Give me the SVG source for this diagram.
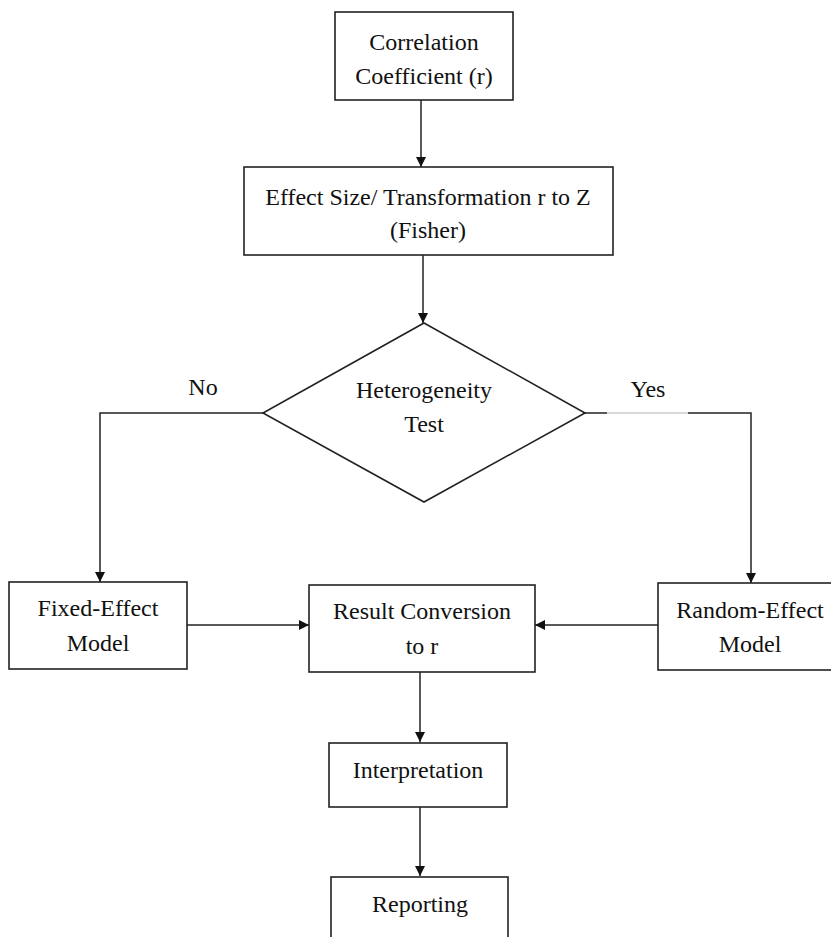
<svg xmlns="http://www.w3.org/2000/svg" width="831" height="937" viewBox="0 0 831 937" font-family="'Liberation Serif', 'Times New Roman', Times, 'DejaVu Serif', serif">
<style>
.box{fill:#fff;stroke:#222;stroke-width:1.6}
.t{font-size:24px;fill:#111;text-anchor:middle}
.c{fill:none;stroke:#222;stroke-width:1.5}
</style>
<defs>
<marker id="ah" viewBox="0 0 10 10" refX="10" refY="5" markerWidth="14" markerHeight="10" markerUnits="userSpaceOnUse" orient="auto">
<path d="M0,0 L10,5 L0,10 z" fill="#111"/>
</marker>
</defs>
<rect width="831" height="937" fill="#fff"/>
<g id="connectors">
<path class="c" d="M421,100 V167" marker-end="url(#ah)"/>
<path class="c" d="M423,255 V323" marker-end="url(#ah)"/>
<path class="c" d="M263,413 H100 V582" marker-end="url(#ah)"/>
<path class="c" d="M585,413 H607"/>
<path d="M607,413 H688" fill="none" stroke="#ccc" stroke-width="1.5"/>
<path class="c" d="M688,413 H751 V583" marker-end="url(#ah)"/>
<path class="c" d="M187,625 H309" marker-end="url(#ah)"/>
<path class="c" d="M658,625 H535" marker-end="url(#ah)"/>
<path class="c" d="M420,672 V742" marker-end="url(#ah)"/>
<path class="c" d="M420,807 V876" marker-end="url(#ah)"/>
</g>
<g id="n1">
<rect class="box" x="335" y="12" width="178" height="88"/>
<text class="t" x="424" y="50">Correlation</text>
<text class="t" x="424" y="84">Coefficient (r)</text>
</g>
<g id="n2">
<rect class="box" x="244" y="167" width="369" height="88"/>
<text class="t" x="428" y="205">Effect Size/ Transformation r to Z</text>
<text class="t" x="428" y="238">(Fisher)</text>
</g>
<g id="n3">
<polygon class="box" points="424,323 585,413 424,502 263,413"/>
<text class="t" x="424" y="398">Heterogeneity</text>
<text class="t" x="424" y="432">Test</text>
</g>
<text class="t" x="203" y="395">No</text>
<text class="t" x="648" y="397">Yes</text>
<g id="n4">
<rect class="box" x="9" y="582" width="178" height="87"/>
<text class="t" x="98" y="616">Fixed-Effect</text>
<text class="t" x="98" y="651">Model</text>
</g>
<g id="n5">
<rect class="box" x="309" y="585" width="226" height="87"/>
<text class="t" x="422" y="619">Result Conversion</text>
<text class="t" x="422" y="654">to r</text>
</g>
<g id="n6">
<rect class="box" x="658" y="583" width="186" height="87"/>
<text class="t" x="750" y="618">Random-Effect</text>
<text class="t" x="750" y="652">Model</text>
</g>
<g id="n7">
<rect class="box" x="329" y="743" width="178" height="64"/>
<text class="t" x="418" y="778">Interpretation</text>
</g>
<g id="n8">
<rect class="box" x="331" y="877" width="177" height="70"/>
<text class="t" x="420" y="912">Reporting</text>
</g>
</svg>
